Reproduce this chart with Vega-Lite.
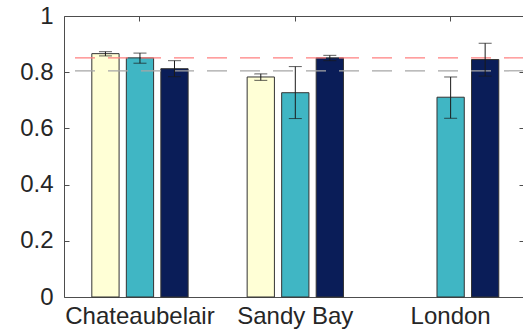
{
  "$schema": "https://vega.github.io/schema/vega-lite/v6.json",
  "width": 460,
  "height": 281,
  "autosize": "none",
  "padding": {"left": 64, "top": 16, "right": 0, "bottom": 37},
  "config": {
    "view": {"stroke": "#4d4d4d", "strokeWidth": 1},
    "font": "Liberation Sans",
    "axis": {"labelFont": "Liberation Sans", "labelFontSize": 24, "labelColor": "#262626", "tickColor": "#4d4d4d", "domain": false, "grid": false, "title": null}
  },
  "data": {
    "values": [
      {"site": "Chateaubelair", "series": "Series 1", "mean": 0.866, "lo": 0.858, "hi": 0.873},
      {"site": "Chateaubelair", "series": "Series 2", "mean": 0.851, "lo": 0.832, "hi": 0.868},
      {"site": "Chateaubelair", "series": "Series 3", "mean": 0.8125, "lo": 0.784, "hi": 0.841},
      {"site": "Sandy Bay", "series": "Series 1", "mean": 0.783, "lo": 0.771, "hi": 0.794},
      {"site": "Sandy Bay", "series": "Series 2", "mean": 0.727, "lo": 0.635, "hi": 0.82},
      {"site": "Sandy Bay", "series": "Series 3", "mean": 0.851, "lo": 0.841, "hi": 0.86},
      {"site": "London", "series": "Series 2", "mean": 0.711, "lo": 0.636, "hi": 0.783},
      {"site": "London", "series": "Series 3", "mean": 0.845, "lo": 0.786, "hi": 0.903}
    ]
  },
  "layer": [
    {
      "mark": {"type": "bar", "stroke": "#333333", "strokeWidth": 1},
      "encoding": {
        "x": {"field": "site", "type": "nominal", "sort": ["Chateaubelair", "Sandy Bay", "London"],
              "scale": {"range": [-1.7, 464.3], "paddingInner": 0, "paddingOuter": 0},
              "axis": {"orient": "bottom", "labelAngle": 0, "tickSize": -5, "labelPadding": 12}},
        "xOffset": {"field": "series", "type": "nominal", "scale": {"domain": ["Series 1", "Series 2", "Series 3"], "paddingInner": 0.21, "paddingOuter": 0.855}},
        "y": {"field": "mean", "type": "quantitative", "scale": {"domain": [0, 1], "nice": false},
              "axis": {"orient": "left", "values": [0, 0.2, 0.4, 0.6, 0.8, 1], "format": "~g", "tickSize": -5, "labelPadding": 16}},
        "color": {"field": "series", "type": "nominal", "scale": {"domain": ["Series 1", "Series 2", "Series 3"], "range": ["#ffffd6", "#40b6c4", "#0a1d58"]}, "legend": null}
      }
    },
    {
      "data": {"values": [{"level": 0.805}]},
      "mark": {"type": "rule", "color": "#a6a6a6", "strokeWidth": 1.2, "strokeDash": [20, 13]},
      "encoding": {
        "y": {"field": "level", "type": "quantitative", "axis": {"orient": "right", "values": [0, 0.2, 0.4, 0.6, 0.8, 1], "labels": false, "tickSize": -5}}
      }
    },
    {
      "data": {"values": [{"level": 0.851}]},
      "mark": {"type": "rule", "color": "#ff8080", "strokeWidth": 1.2, "strokeDash": [20, 13]},
      "encoding": {
        "y": {"field": "level", "type": "quantitative", "axis": null}
      }
    },
    {
      "mark": {"type": "rule", "color": "#1a1a1a", "strokeWidth": 1},
      "encoding": {
        "x": {"field": "site", "type": "nominal", "sort": ["Chateaubelair", "Sandy Bay", "London"],
              "axis": {"orient": "top", "labels": false, "labelAngle": 0, "tickSize": -5}},
        "xOffset": {"field": "series", "type": "nominal"},
        "y": {"field": "lo", "type": "quantitative", "axis": null},
        "y2": {"field": "hi"}
      }
    },
    {
      "mark": {"type": "tick", "color": "#1a1a1a", "thickness": 1, "size": 13, "orient": "horizontal"},
      "encoding": {
        "x": {"field": "site", "type": "nominal", "sort": ["Chateaubelair", "Sandy Bay", "London"], "axis": null},
        "xOffset": {"field": "series", "type": "nominal"},
        "y": {"field": "lo", "type": "quantitative", "axis": null}
      }
    },
    {
      "mark": {"type": "tick", "color": "#1a1a1a", "thickness": 1, "size": 13, "orient": "horizontal"},
      "encoding": {
        "x": {"field": "site", "type": "nominal", "sort": ["Chateaubelair", "Sandy Bay", "London"], "axis": null},
        "xOffset": {"field": "series", "type": "nominal"},
        "y": {"field": "hi", "type": "quantitative", "axis": null}
      }
    }
  ]
}
